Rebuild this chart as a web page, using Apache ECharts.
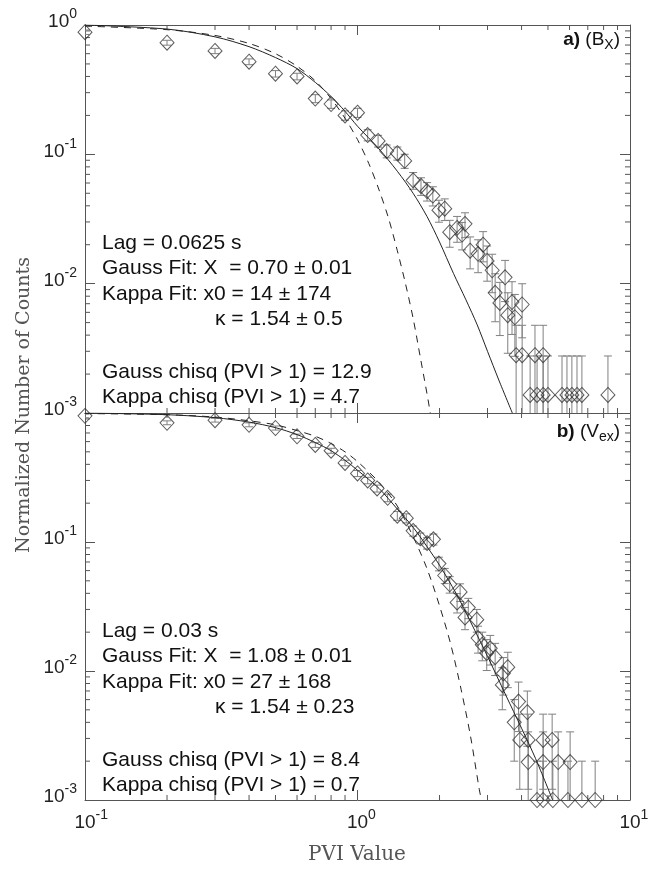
<!DOCTYPE html>
<html>
<head>
<meta charset="utf-8">
<script src="https://cdn.jsdelivr.net/npm/echarts/dist/echarts.min.js"></script>
<style>
  html, body { margin: 0; padding: 0; background: #fff; }
  #chart { width: 657px; height: 869px; }
</style>
</head>
<body>
<div id="chart"></div>
<script>
// panel a (Bx): measured points [PVI, normalized counts]
const pointsA = [
  [0.1, 0.88], [0.2, 0.73], [0.3, 0.63], [0.4, 0.52], [0.5, 0.42], [0.6, 0.40],
  [0.7, 0.27], [0.8, 0.245], [0.9, 0.20], [1.0, 0.21], [1.09, 0.141], [1.19, 0.127],
  [1.28, 0.106], [1.40, 0.102], [1.49, 0.089], [1.60, 0.063], [1.71, 0.057], [1.80, 0.052],
  [1.89, 0.048], [1.99, 0.037], [2.09, 0.038], [2.18, 0.025], [2.32, 0.027], [2.42, 0.024],
  [2.48, 0.029], [2.59, 0.018], [2.77, 0.017], [2.89, 0.020], [2.99, 0.015], [3.12, 0.0127],
  [3.20, 0.0085], [3.33, 0.0071], [3.48, 0.0112], [3.56, 0.0057], [3.69, 0.0072], [3.78, 0.0055],
  [4.02, 0.0069], [3.82, 0.0028], [4.02, 0.0028], [4.48, 0.0028], [4.80, 0.0028],
  [4.30, 0.00138], [4.56, 0.00138], [4.80, 0.00138], [5.0, 0.00138], [5.63, 0.00138],
  [5.87, 0.00138], [6.12, 0.00138], [6.39, 0.00138], [6.66, 0.00138], [8.30, 0.00138]
];
const gaussA = [
  [0.1, 0.98], [0.2, 0.92], [0.3, 0.83], [0.4, 0.72], [0.5, 0.60], [0.6, 0.48], [0.7, 0.37],
  [0.8, 0.27], [0.9, 0.19], [1.0, 0.13], [1.1, 0.085], [1.2, 0.053], [1.3, 0.032], [1.4, 0.018],
  [1.5, 0.010], [1.6, 0.0054], [1.7, 0.0027], [1.8, 0.0014], [1.85, 0.001]
];
const kappaA = [
  [0.1, 1.0], [0.2, 0.93], [0.3, 0.81], [0.4, 0.68], [0.5, 0.56], [0.6, 0.46], [0.7, 0.36],
  [0.8, 0.28], [0.9, 0.215], [1.0, 0.165], [1.2, 0.11], [1.4, 0.074], [1.6, 0.05], [1.8, 0.033],
  [2.0, 0.021], [2.25, 0.012], [2.5, 0.0075], [2.75, 0.0048], [3.0, 0.003], [3.3, 0.0018], [3.7, 0.001]
];
const countUnitA = 0.00138;

// panel b (Vex)
const pointsB = [
  [0.1, 0.95], [0.2, 0.84], [0.3, 0.88], [0.4, 0.81], [0.5, 0.765], [0.6, 0.66], [0.7, 0.565],
  [0.8, 0.51], [0.9, 0.41], [1.0, 0.34], [1.09, 0.30], [1.18, 0.26], [1.29, 0.22], [1.40, 0.16],
  [1.51, 0.153], [1.60, 0.122], [1.70, 0.107], [1.80, 0.098], [1.90, 0.105], [1.99, 0.068],
  [2.09, 0.055], [2.18, 0.047], [2.38, 0.041], [2.32, 0.034], [2.55, 0.031], [2.48, 0.026],
  [2.74, 0.025], [2.77, 0.018], [2.87, 0.016], [3.07, 0.015], [2.98, 0.0138], [3.2, 0.0128],
  [3.56, 0.0107], [3.43, 0.0096], [3.40, 0.0078], [3.9, 0.0058], [4.2, 0.0048], [3.76, 0.004],
  [3.94, 0.00292], [4.23, 0.00292], [4.80, 0.00292], [5.18, 0.00292],
  [4.23, 0.00197], [4.80, 0.00197], [5.45, 0.00197], [6.03, 0.00197],
  [4.56, 0.001], [4.80, 0.001], [5.21, 0.001], [5.92, 0.001], [6.66, 0.001], [7.45, 0.001]
];
const gaussB = [
  [0.1, 0.99], [0.2, 0.97], [0.3, 0.93], [0.4, 0.87], [0.5, 0.81], [0.6, 0.73], [0.7, 0.66],
  [0.8, 0.58], [0.9, 0.50], [1.0, 0.42], [1.2, 0.29], [1.4, 0.19], [1.6, 0.11], [1.8, 0.062],
  [2.0, 0.032], [2.2, 0.016], [2.4, 0.0072], [2.6, 0.0031], [2.8, 0.0012], [2.85, 0.001]
];
const kappaB = [
  [0.1, 1.0], [0.2, 0.97], [0.3, 0.92], [0.4, 0.85], [0.5, 0.77], [0.6, 0.68], [0.7, 0.59],
  [0.8, 0.51], [0.9, 0.43], [1.0, 0.36], [1.2, 0.26], [1.4, 0.18], [1.6, 0.13], [1.8, 0.092],
  [2.0, 0.066], [2.3, 0.04], [2.6, 0.024], [3.0, 0.013], [3.5, 0.0065], [4.0, 0.0036],
  [4.5, 0.0021], [5.2, 0.001]
];
const countUnitB = 0.001;

const minorMult = [2, 3, 4, 5, 6, 7, 8, 9];
const xDecades = [0.1, 1];
const yDecades = [0.001, 0.01, 0.1];

const textA = ['Lag = 0.0625 s', 'Gauss Fit: X  = 0.70 \u00b1 0.01', 'Kappa Fit: x0 = 14 \u00b1 174',
  '\u03ba = 1.54 \u00b1 0.5', 'Gauss chisq (PVI > 1) = 12.9', 'Kappa chisq (PVI > 1) = 4.7'];
const textB = ['Lag = 0.03 s', 'Gauss Fit: X  = 1.08 \u00b1 0.01', 'Kappa Fit: x0 = 27 \u00b1 168',
  '\u03ba = 1.54 \u00b1 0.23', 'Gauss chisq (PVI > 1) = 8.4', 'Kappa chisq (PVI > 1) = 0.7'];

const X_MIN = 0.1, X_MAX = 10, Y_MIN = 0.001, Y_MAX = 1;
const axisColor = '#555';
const sans = 'Liberation Sans, Arial, sans-serif';
const serif = 'DejaVu Serif, serif';

const minorX = [];
xDecades.forEach(d => minorMult.forEach(m => minorX.push(+(d * m).toPrecision(3))));
const minorY = [];
yDecades.forEach(d => minorMult.forEach(m => minorY.push(+(d * m).toPrecision(3))));

const lineStyle = { stroke: axisColor, lineWidth: 1 };

function minorXSeries(xi, yi) {
  return {
    type: 'custom', xAxisIndex: xi, yAxisIndex: yi, silent: true,
    data: minorX.map(v => [v, 0.01]),
    renderItem: (params, api) => {
      const v = api.value(0);
      const b = api.coord([v, Y_MIN]), t = api.coord([v, Y_MAX]);
      return { type: 'group', children: [
        { type: 'line', shape: { x1: b[0], y1: b[1], x2: b[0], y2: b[1] - 5 }, style: lineStyle },
        { type: 'line', shape: { x1: t[0], y1: t[1], x2: t[0], y2: t[1] + 5 }, style: lineStyle }
      ] };
    }
  };
}

function minorYSeries(xi, yi) {
  return {
    type: 'custom', xAxisIndex: xi, yAxisIndex: yi, silent: true,
    data: minorY.map(v => [1, v]),
    renderItem: (params, api) => {
      const v = api.value(1);
      const l = api.coord([X_MIN, v]), r = api.coord([X_MAX, v]);
      return { type: 'group', children: [
        { type: 'line', shape: { x1: l[0], y1: l[1], x2: l[0] + 5, y2: l[1] }, style: lineStyle },
        { type: 'line', shape: { x1: r[0], y1: r[1], x2: r[0] - 5, y2: r[1] }, style: lineStyle }
      ] };
    }
  };
}

// poisson error bars from the count unit of each panel
function errorSeries(points, unit, xi, yi) {
  return {
    type: 'custom', xAxisIndex: xi, yAxisIndex: yi, clip: true, silent: true, z: 2,
    encode: { x: 0, y: [1, 2] },
    data: points.map(p => {
      const e = Math.sqrt(p[1] * unit);
      return [p[0], Math.max(p[1] - e, 0.0003), p[1] + e];
    }),
    renderItem: (params, api) => {
      const x = api.value(0);
      const lo = api.coord([x, api.value(1)]), hi = api.coord([x, api.value(2)]);
      const st = { stroke: '#808080', lineWidth: 1 };
      return { type: 'group', children: [
        { type: 'line', shape: { x1: hi[0], y1: hi[1], x2: lo[0], y2: lo[1] }, style: st },
        { type: 'line', shape: { x1: hi[0] - 4, y1: hi[1], x2: hi[0] + 4, y2: hi[1] }, style: st },
        { type: 'line', shape: { x1: lo[0] - 4, y1: lo[1], x2: lo[0] + 4, y2: lo[1] }, style: st }
      ] };
    }
  };
}

const exp10 = v => Math.round(Math.log10(v));
const richPow = {
  p: { fontSize: 14, fontFamily: sans, color: 'rgba(0,0,0,0)', lineHeight: 24, verticalAlign: 'top' },
  b: { fontSize: 19, fontFamily: sans, color: '#222', lineHeight: 24, verticalAlign: 'bottom' },
  s: { fontSize: 14, fontFamily: sans, color: '#222', lineHeight: 24, verticalAlign: 'top' }
};

function xAxis(gi, pos, labels) {
  return {
    type: 'log', logBase: 10, gridIndex: gi, position: pos, min: X_MIN, max: X_MAX,
    axisLine: { show: true, onZero: false, lineStyle: { color: axisColor, width: 1 } },
    axisTick: { show: true, inside: true, length: 10, lineStyle: { color: axisColor } },
    splitLine: { show: false },
    axisLabel: labels ? {
      show: true, margin: 8, rich: richPow,
      // hidden copy of the exponent on the left keeps "10" centred on the tick
      formatter: v => '{p|' + exp10(v) + '}{b|10}{s|' + exp10(v) + '}'
    } : { show: false }
  };
}

function yAxis(gi, pos, labels, showMax) {
  return {
    type: 'log', logBase: 10, gridIndex: gi, position: pos, min: Y_MIN, max: Y_MAX,
    axisLine: { show: true, onZero: false, lineStyle: { color: axisColor, width: 1 } },
    axisTick: { show: true, inside: true, length: 10, lineStyle: { color: axisColor } },
    splitLine: { show: false },
    axisLabel: labels ? {
      show: true, margin: 8, showMaxLabel: showMax, padding: [0, 0, 11, 0], rich: richPow,
      formatter: v => '{b|10}{s|' + exp10(v) + '}'
    } : { show: false }
  };
}

function panelSeries(points, gauss, kappa, unit, xi, yi) {
  return [
    minorXSeries(xi, yi),
    minorYSeries(xi, yi),
    errorSeries(points, unit, xi, yi),
    {
      type: 'line', xAxisIndex: xi, yAxisIndex: yi, data: gauss, showSymbol: false, smooth: 0.3,
      lineStyle: { color: '#222', width: 1, type: [7, 6] }, z: 3, silent: true
    },
    {
      type: 'line', xAxisIndex: xi, yAxisIndex: yi, data: kappa, showSymbol: false, smooth: 0.3,
      lineStyle: { color: '#222', width: 1 }, z: 3, silent: true
    },
    {
      type: 'scatter', xAxisIndex: xi, yAxisIndex: yi, data: points, symbol: 'diamond',
      symbolSize: [14, 15], z: 4, silent: true,
      itemStyle: { color: 'rgba(0,0,0,0)', borderColor: '#333', borderWidth: 1 }
    }
  ];
}

function textBlock(lines, top) {
  const ys = [0, 25.5, 51, 76.5, 129, 154.5];
  return lines.map((t, i) => ({
    type: 'text', x: i === 3 ? 215 : 102, y: top + ys[i],
    style: { text: t, font: '21px ' + sans, fill: '#111', verticalAlign: 'middle' }
  }));
}

function panelTag(tag, base, sub, y) {
  return {
    type: 'text', x: 620, y: y,
    style: {
      text: '{b|' + tag + '} (' + base + '{sub|' + sub + '})', align: 'right', verticalAlign: 'middle',
      font: '19px ' + sans, fill: '#111',
      rich: {
        b: { fontWeight: 'bold', fontSize: 19, fontFamily: sans },
        sub: { fontSize: 14, fontFamily: sans, padding: [10, 0, 0, 0] }
      }
    }
  };
}

const chart = echarts.init(document.getElementById('chart'), null, { renderer: 'canvas' });
chart.setOption({
  backgroundColor: '#fff',
  animation: false,
  grid: [
    { left: 85, top: 25, width: 545, height: 388, outerBoundsMode: 'none' },
    { left: 85, top: 413, width: 545, height: 387, outerBoundsMode: 'none' }
  ],
  xAxis: [xAxis(0, 'bottom', false), xAxis(0, 'top', false), xAxis(1, 'bottom', true), xAxis(1, 'top', false)],
  yAxis: [yAxis(0, 'left', true, true), yAxis(0, 'right', false), yAxis(1, 'left', true, false), yAxis(1, 'right', false)],
  series: [].concat(
    panelSeries(pointsA, gaussA, kappaA, countUnitA, 0, 0),
    panelSeries(pointsB, gaussB, kappaB, countUnitB, 2, 2)
  ),
  graphic: [].concat(
    textBlock(textA, 243),
    textBlock(textB, 631),
    [
      panelTag('a)', 'B', 'X', 40),
      panelTag('b)', 'V', 'ex', 432),
      {
        type: 'text', x: 24, y: 405, rotation: Math.PI / 2,
        style: { text: 'Normalized Number of Counts', font: '19px ' + serif, fill: '#555', align: 'center', verticalAlign: 'middle' }
      },
      {
        type: 'text', x: 357, y: 855,
        style: { text: 'PVI Value', font: '20px ' + serif, fill: '#555', align: 'center', verticalAlign: 'middle' }
      }
    ]
  )
});
</script>
</body>
</html>
